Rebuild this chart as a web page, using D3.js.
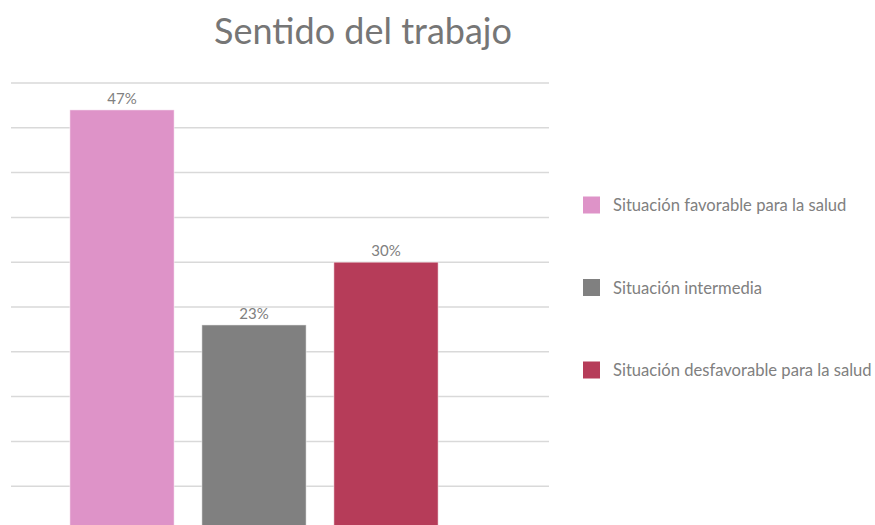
<!DOCTYPE html>
<html>
<head>
<meta charset="utf-8">
<script src="https://cdn.jsdelivr.net/npm/d3@7"></script>
<style>
  body { margin: 0; background: #fff; }
  text { font-family: "Source Sans Pro", Lato, "Noto Sans", sans-serif; }
</style>
</head>
<body>
<div id="chart"></div>
<script>
// Sentido del trabajo: one bar per situation

const categories = ["Situación favorable para la salud", "Situación intermedia", "Situación desfavorable para la salud"];
const values = [47, 23, 30];
const colors = ["#de93c8", "#808080", "#b63c59"];
const gridTicks = [0, 5, 10, 15, 20, 25, 30, 35, 40, 45, 50];

(function() {
    const width = 875, height = 525;

    const svg = d3.select("#chart")
        .append("svg")
        .attr("width", width)
        .attr("height", height);

    // X scale (categories)
    const x = d3.scaleBand()
        .domain(categories)
        .range([56, 452])
        .paddingInner(0.21)
        .paddingOuter(0.105);

    // Y scale (percent), zero sits just below the visible area
    const y = d3.scaleLinear()
        .domain([0, 50])
        .range([531, 83]);

    // Gridlines
    svg.append("g")
        .selectAll("line")
        .data(gridTicks)
        .enter()
        .append("line")
        .attr("x1", 11)
        .attr("x2", 549)
        .attr("y1", d => y(d))
        .attr("y2", d => y(d))
        .attr("stroke", "#d9d9d9")
        .attr("stroke-width", 1.5);

    // Title
    svg.append("text")
        .attr("x", 363)
        .attr("y", 44)
        .attr("text-anchor", "middle")
        .attr("font-size", 36)
        .attr("fill", "#767676")
        .text("Sentido del trabajo");

    // Bars
    svg.selectAll("rect.bar")
        .data(values)
        .enter()
        .append("rect")
        .attr("class", "bar")
        .attr("x", (d, i) => x(categories[i]))
        .attr("y", d => y(d))
        .attr("width", x.bandwidth())
        .attr("height", d => y(0) - y(d))
        .attr("fill", (d, i) => colors[i])
        .attr("stroke", "#ffffff")
        .attr("stroke-opacity", 0.5)
        .attr("stroke-width", 1);

    // Value labels
    svg.selectAll("text.val")
        .data(values)
        .enter()
        .append("text")
        .attr("class", "val")
        .attr("x", (d, i) => x(categories[i]) + x.bandwidth() / 2)
        .attr("y", d => y(d) - 6)
        .attr("text-anchor", "middle")
        .attr("font-size", 15)
        .attr("fill", "#808080")
        .text(d => d + "%");

    // Legend
    const legend = svg.append("g")
        .selectAll("g")
        .data(categories)
        .enter()
        .append("g")
        .attr("transform", (d, i) => `translate(583,${205 + i * 82.5})`);

    legend.append("rect")
        .attr("x", 0)
        .attr("y", -8.5)
        .attr("width", 17)
        .attr("height", 17)
        .attr("fill", (d, i) => colors[i]);

    legend.append("text")
        .attr("x", 30)
        .attr("y", 6)
        .attr("font-size", 16.6)
        .attr("fill", "#808080")
        .text(d => d);
})();
</script>
</body>
</html>
